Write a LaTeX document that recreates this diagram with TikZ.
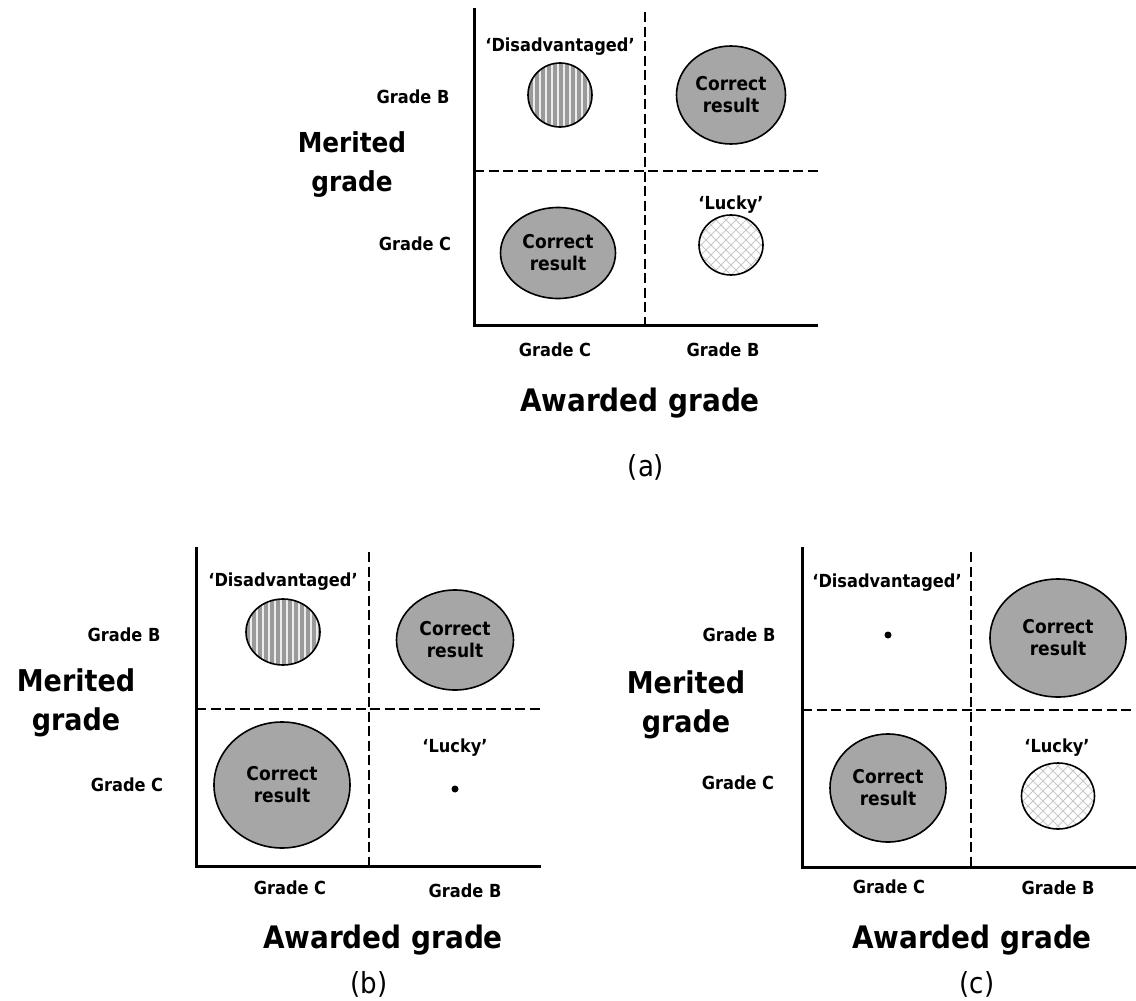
\documentclass[tikz,border=0pt]{standalone}
\usepackage{fontspec}
\setmainfont{DejaVu Sans Condensed}
\usetikzlibrary{shapes.geometric}
\definecolor{cgray}{HTML}{A6A6A6}
\definecolor{hgray}{HTML}{9A9A9A}
\definecolor{xgray}{HTML}{C8C8C8}
\tikzset{
  lab/.style={font=\bfseries\fontsize{18}{22}\selectfont, inner sep=0pt},
  axlab/.style={font=\bfseries\fontsize{30}{39}\selectfont, align=center, inner sep=0pt},
  awlab/.style={font=\bfseries\fontsize{31}{37}\selectfont, inner sep=0pt},
  captxt/.style={font=\fontsize{29}{32}\selectfont, inner sep=0pt},
  axisline/.style={line width=3pt, line join=miter},
  divider/.style={line width=2.6pt, dash pattern=on 10pt off 4.5pt},
  correct/.style={ellipse, draw, line width=1.6pt, fill=cgray, inner sep=0pt,
    align=center, font=\bfseries\fontsize{19}{22}\selectfont},
  striped/.style={ellipse, draw, line width=1.6pt, fill=hgray, inner sep=0pt,
    path picture={
      \foreach \i in {-80,-74,...,80}
        \draw[white!85!gray, line width=2pt]
          ([xshift=\i pt]path picture bounding box.north) --
          ([xshift=\i pt]path picture bounding box.south);
    }},
  hatched/.style={ellipse, draw, line width=1.6pt, fill=white, inner sep=0pt,
    path picture={
      \foreach \i in {-120,-110,...,120}{
        \draw[xgray, line width=0.9pt]
          ([xshift=\i pt]path picture bounding box.center) ++(-60,-60) -- ++(120,120);
        \draw[xgray, line width=0.9pt]
          ([xshift=\i pt]path picture bounding box.center) ++(-60,60) -- ++(120,-120);
      }
    }},
  dot/.style={circle, fill=black, inner sep=0pt, minimum size=7pt}
}
\begin{document}
\begin{tikzpicture}[x=1pt,y=-1pt]
\useasboundingbox (0,0) rectangle (1136,1001);

% ---------------- panel (a)
\coordinate (aTop) at (474,8);
\coordinate (aO) at (474,325);
\coordinate (aR) at (818,325);
\coordinate (aVt) at (645,12);
\coordinate (aVb) at (645,325);
\coordinate (aHl) at (474,171);
\coordinate (aHr) at (818,171);
\draw[divider] (aVt) -- (aVb);
\draw[divider] (aHl) -- (aHr);
\draw[axisline] (aTop) -- (aO) -- (aR);
\node[lab] (aDisL) at (560,47) {‘Disadvantaged’};
\node[striped, minimum width=64pt, minimum height=64pt] (aDis) at (560,95) {};
\node[correct, minimum width=109pt, minimum height=98pt] (aCRtop) at (731,95) {Correct\\result};
\node[correct, minimum width=115pt, minimum height=91pt] (aCRbot) at (558,253) {Correct\\result};
\node[lab] (aLuckyL) at (731,205) {‘Lucky’};
\node[hatched, minimum width=64pt, minimum height=60pt] (aLucky) at (731,245) {};
\node[lab] (aGB) at (413,97) {Grade B};
\node[lab] (aGC) at (415,244) {Grade C};
\node[axlab, font=\bfseries\fontsize{27.5}{39}\selectfont] (aMer) at (352,165) {Merited\\grade};
\node[lab] (aXC) at (555,350) {Grade C};
\node[lab] (aXB) at (723,350) {Grade B};
\node[awlab] (aAw) at (640,403) {Awarded grade};
\node[captxt] (aCap) at (646,467) {(a)};

% ---------------- panel (b)
\coordinate (bTop) at (196,547);
\coordinate (bO) at (196,866);
\coordinate (bR) at (541,866);
\coordinate (bVt) at (369,552);
\coordinate (bVb) at (369,866);
\coordinate (bHl) at (196,709);
\coordinate (bHr) at (541,709);
\draw[divider] (bVt) -- (bVb);
\draw[divider] (bHl) -- (bHr);
\draw[axisline] (bTop) -- (bO) -- (bR);
\node[lab] (bDisL) at (283,582) {‘Disadvantaged’};
\node[striped, minimum width=74pt, minimum height=66pt] (bDis) at (283,632) {};
\node[correct, minimum width=117pt, minimum height=100pt] (bCRtop) at (455,640) {Correct\\result};
\node[correct, minimum width=136pt, minimum height=126pt] (bCRbot) at (282,785) {Correct\\result};
\node[lab] (bLuckyL) at (455,748) {‘Lucky’};
\node[dot] (bLucky) at (455,789) {};
\node[lab] (bGB) at (124,635) {Grade B};
\node[lab] (bGC) at (127,785) {Grade C};
\node[axlab] (bMer) at (76,703) {Merited\\grade};
\node[lab] (bXC) at (290,888) {Grade C};
\node[lab] (bXB) at (465,891) {Grade B};
\node[awlab] (bAw) at (383,940) {Awarded grade};
\node[captxt] (bCap) at (369,984) {(b)};

% ---------------- panel (c)
\coordinate (cTop) at (802,547);
\coordinate (cO) at (802,867);
\coordinate (cR) at (1136,867);
\coordinate (cVt) at (971,552);
\coordinate (cVb) at (971,867);
\coordinate (cHl) at (802,710);
\coordinate (cHr) at (1136,710);
\draw[divider] (cVt) -- (cVb);
\draw[divider] (cHl) -- (cHr);
\draw[axisline] (cTop) -- (cO) -- (cR);
\node[lab] (cDisL) at (887,583) {‘Disadvantaged’};
\node[dot] (cDis) at (888,635) {};
\node[correct, minimum width=136pt, minimum height=118pt] (cCRtop) at (1058,638) {Correct\\result};
\node[correct, minimum width=116pt, minimum height=108pt] (cCRbot) at (888,788) {Correct\\result};
\node[lab] (cLuckyL) at (1057,748) {‘Lucky’};
\node[hatched, minimum width=73pt, minimum height=66pt] (cLucky) at (1058,796) {};
\node[lab] (cGB) at (739,635) {Grade B};
\node[lab] (cGC) at (738,783) {Grade C};
\node[axlab] (cMer) at (686,705) {Merited\\grade};
\node[lab] (cXC) at (889,887) {Grade C};
\node[lab] (cXB) at (1058,888) {Grade B};
\node[awlab] (cAw) at (972,940) {Awarded grade};
\node[captxt] (cCap) at (977,984) {(c)};
\end{tikzpicture}
\end{document}
